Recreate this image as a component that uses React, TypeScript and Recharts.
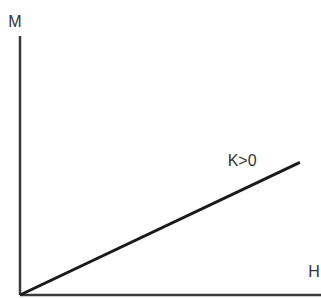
import React from 'react';
import { LineChart, Line, XAxis, YAxis, ReferenceDot, ReferenceLine } from 'recharts';

const hValues = [0, 93];
const mValues = [0, 51.2];
const data = hValues.map((h, i) => ({ h, m: mValues[i] }));

const labels = [
  { text: 'M', x: -1.7, y: 105.8 },
  { text: 'H', x: 97.7, y: 9.2 },
  { text: 'K>0', x: 73.8, y: 51.9 },
];

const axisStyle = { stroke: '#3a3a3a', strokeWidth: 2.5 };

export default function App() {
  return (
    <div style={{ position: 'absolute', left: 0, top: 0 }}>
      <LineChart width={321} height={298} data={data} margin={{ top: 36, right: 0, bottom: 3, left: 20 }}>
        <XAxis dataKey="h" type="number" domain={[0, 100]} hide />
        <YAxis type="number" domain={[0, 100]} hide />
        <ReferenceLine segment={[{ x: 0, y: 0 }, { x: 0, y: 100 }]} ifOverflow="visible" {...axisStyle} />
        <ReferenceLine segment={[{ x: 0, y: 0 }, { x: 100, y: 0 }]} ifOverflow="visible" {...axisStyle} />
        <Line type="linear" dataKey="m" stroke="#1a1a1a" strokeWidth={3} dot={false} isAnimationActive={false} />
        {labels.map((l) => (
          <ReferenceDot key={l.text} x={l.x} y={l.y} r={0} ifOverflow="visible"
            label={{ value: l.text, position: 'center', fill: '#333', fontSize: 16, fontFamily: 'Liberation Sans, Arial, sans-serif' }} />
        ))}
      </LineChart>
    </div>
  );
}
